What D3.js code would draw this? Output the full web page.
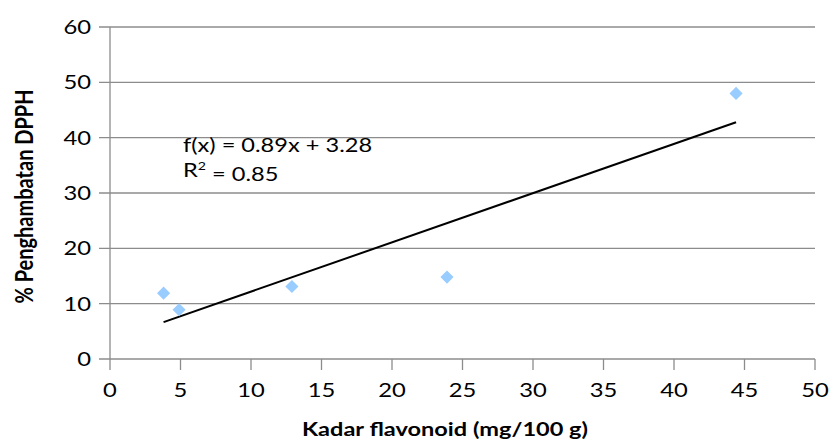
<!DOCTYPE html>
<html>
<head>
<meta charset="utf-8">
<script src="https://cdn.jsdelivr.net/npm/d3@7/dist/d3.min.js"></script>
<style>
  body { margin: 0; background: #fff; }
  svg text { font-family: Lato, Carlito, "Liberation Sans", sans-serif; }
</style>
</head>
<body>
<div id="chart"></div>
<script>
// data
const flavonoid = [3.8, 4.9, 12.9, 23.9, 44.4];
const inhibition = [11.9, 8.9, 13.1, 14.8, 48.0];
const xTicks = [0, 5, 10, 15, 20, 25, 30, 35, 40, 45, 50];
const yTicks = [0, 10, 20, 30, 40, 50, 60];
const slope = 0.89, intercept = 3.28;

const W = 829, H = 445;
const margin = ({top: 27, right: 14, bottom: 86, left: 110});
const stretch = 1.22; // the original text looks wider than Lato

const svg = d3.select('#chart').append('svg')
    .attr('width', W)
    .attr('height', H);

const x = d3.scaleLinear().domain([0, 50]).range([margin.left, W - margin.right]);
const y = d3.scaleLinear().domain([0, 60]).range([H - margin.bottom, margin.top]);

// gridlines (with small stubs left of the axis)
svg.append('g')
    .selectAll('line')
    .data(yTicks)
    .enter()
    .append('line')
    .attr('x1', margin.left - 11)
    .attr('x2', x(50))
    .attr('y1', d => y(d))
    .attr('y2', d => y(d))
    .attr('stroke', '#8c8c8c')
    .attr('stroke-width', 1.3);

// y axis line
svg.append('line')
    .attr('x1', x(0)).attr('x2', x(0))
    .attr('y1', y(60)).attr('y2', y(0) + 11)
    .attr('stroke', '#8c8c8c')
    .attr('stroke-width', 1.3);

// x ticks
svg.append('g')
    .selectAll('line')
    .data(xTicks.slice(1))
    .enter()
    .append('line')
    .attr('x1', d => x(d)).attr('x2', d => x(d))
    .attr('y1', y(0)).attr('y2', y(0) + 11)
    .attr('stroke', '#8c8c8c')
    .attr('stroke-width', 1.3);

// tick labels
svg.append('g')
    .selectAll('text')
    .data(yTicks)
    .enter()
    .append('text')
    .attr('transform', d => `translate(${margin.left - 19},${y(d)}) scale(${stretch},1)`)
    .attr('dy', '0.35em')
    .attr('text-anchor', 'end')
    .style('font-size', '19.5px')
    .attr('fill', '#000')
    .text(d => d);

svg.append('g')
    .selectAll('text')
    .data(xTicks)
    .enter()
    .append('text')
    .attr('transform', d => `translate(${x(d)},${y(0) + 38}) scale(${stretch},1)`)
    .attr('text-anchor', 'middle')
    .style('font-size', '19.5px')
    .attr('fill', '#000')
    .text(d => d);

// trendline
const xMin = d3.min(flavonoid), xMax = d3.max(flavonoid);
svg.append('line')
    .attr('x1', x(xMin)).attr('y1', y(slope * xMin + intercept))
    .attr('x2', x(xMax)).attr('y2', y(slope * xMax + intercept))
    .attr('stroke', '#000')
    .attr('stroke-width', 2);

// points
const pts = flavonoid.map((d, i) => ({x: d, y: inhibition[i]}));
svg.append('g')
    .selectAll('path')
    .data(pts)
    .enter()
    .append('path')
    .attr('d', d3.symbol().type(d3.symbolDiamond2).size(110))
    .attr('transform', d => `translate(${x(d.x)},${y(d.y)})`)
    .attr('fill', '#99ccff');

// equation
const eqG = svg.append('g')
    .attr('transform', `translate(183,0) scale(1.18,1)`);
eqG.append('text')
    .attr('y', 152)
    .style('font-size', '20px')
    .attr('fill', '#000')
    .text('f(x) = 0.89x + 3.28');
const r2 = eqG.append('text')
    .attr('y', 177)
    .style('font-size', '20px')
    .attr('fill', '#000');
r2.append('tspan').text('R');
r2.append('tspan').attr('dy', '-0.55em').style('font-size', '12px').text('2');
r2.append('tspan').attr('dy', '0.55em').text(' = 0.85');

// axis titles
svg.append('text')
    .attr('x', 445)
    .attr('y', 436)
    .attr('text-anchor', 'middle')
    .attr('textLength', 286)
    .attr('lengthAdjust', 'spacingAndGlyphs')
    .style('font-size', '19px')
    .style('font-weight', 'bold')
    .attr('fill', '#000')
    .text('Kadar flavonoid (mg/100 g)');

svg.append('text')
    .attr('transform', `translate(33, 196.5) scale(1.2,1) rotate(-90)`)
    .attr('text-anchor', 'middle')
    .style('font-size', '20px')
    .style('font-weight', 'bold')
    .attr('fill', '#000')
    .text('% Penghambatan DPPH');
</script>
</body>
</html>
